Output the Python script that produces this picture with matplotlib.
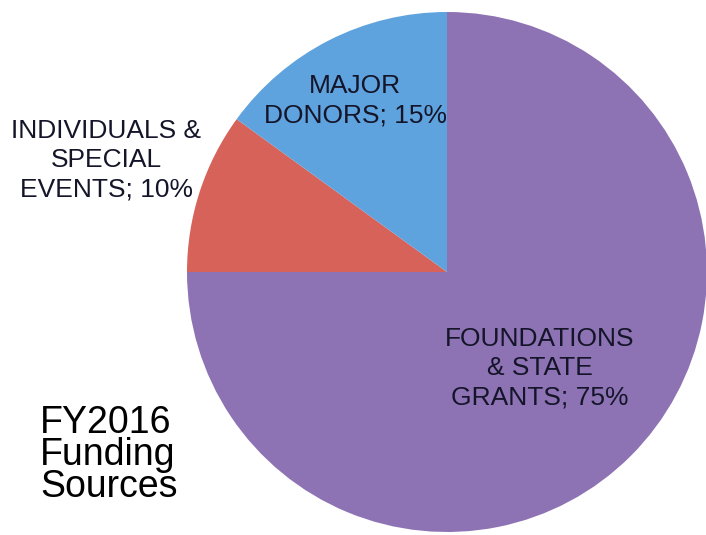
import matplotlib.pyplot as plt

# Funding sources, FY2016 (percent)
sources = ["FOUNDATIONS\n& STATE\nGRANTS", "INDIVIDUALS &\nSPECIAL\nEVENTS", "MAJOR\nDONORS"]
shares = [75, 10, 15]
colors = ["#8d73b4", "#d6625a", "#5fa3de"]

W, H = 706, 535
fig = plt.figure(figsize=(W / 100, H / 100), dpi=100)
ax = fig.add_axes([0, 0, 1, 1])

ax.pie(shares, colors=colors, startangle=90, counterclock=False,
       center=(447, H - 272), radius=260, frame=True,
       wedgeprops=dict(linewidth=0))
ax.set_xlim(0, W)
ax.set_ylim(0, H)
ax.set_aspect("equal")
ax.axis("off")

label_font = dict(family=["Liberation Sans", "DejaVu Sans"], fontsize=19,
                  color="#15152a", ha="center", va="center", linespacing=1.28)
label_pos = [(540, H - 368), (106, H - 160), (355, H - 101)]
for name, val, (x, y) in zip(sources, shares, label_pos):
    ax.text(x, y, f"{name}; {val}%", **label_font)

ax.text(40, H - 455, "FY2016\nFunding\nSources", ha="left", va="center",
        fontsize=27, linespacing=0.85, color="black",
        family=["Liberation Sans", "DejaVu Sans"])

fig.savefig("out.png", dpi=100)
